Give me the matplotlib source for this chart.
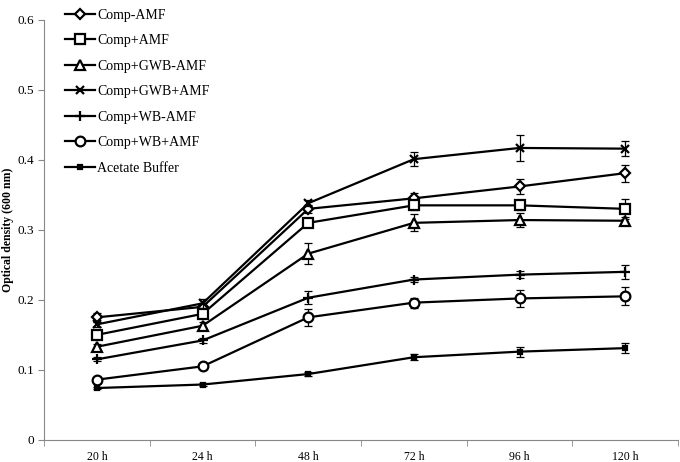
import matplotlib
matplotlib.use("Agg")
import matplotlib.pyplot as plt
import numpy as np

plt.rcParams['font.family'] = ['Liberation Serif', 'DejaVu Serif']

hours = ['20 h', '24 h', '48 h', '72 h', '96 h', '120 h']

comp_amf = [0.175, 0.190, 0.330, 0.345, 0.362, 0.381]
comp_amf_err = [0.006, 0.005, 0.006, 0.008, 0.011, 0.012]
comp_p_amf = [0.150, 0.180, 0.310, 0.335, 0.335, 0.330]
comp_p_amf_err = [0.006, 0.006, 0.005, 0.006, 0.006, 0.014]
gwb_amf = [0.133, 0.163, 0.266, 0.310, 0.314, 0.313]
gwb_amf_err = [0.004, 0.005, 0.015, 0.012, 0.010, 0.005]
gwb_p_amf = [0.165, 0.195, 0.338, 0.401, 0.417, 0.416]
gwb_p_amf_err = [0.004, 0.006, 0.004, 0.010, 0.018, 0.011]
wb_amf = [0.115, 0.142, 0.203, 0.229, 0.236, 0.240]
wb_amf_err = [0.003, 0.004, 0.009, 0.004, 0.005, 0.010]
wb_p_amf = [0.086, 0.105, 0.175, 0.196, 0.202, 0.205]
wb_p_amf_err = [0.003, 0.003, 0.012, 0.007, 0.012, 0.013]
acetate = [0.074, 0.079, 0.094, 0.118, 0.126, 0.131]
acetate_err = [0.002, 0.002, 0.003, 0.004, 0.007, 0.007]

series = [
    ('Comp-AMF', comp_amf, comp_amf_err, 'D', 5),
    ('Comp+AMF', comp_p_amf, comp_p_amf_err, 's', 7),
    ('Comp+GWB-AMF', gwb_amf, gwb_amf_err, '^', 6.5),
    ('Comp+GWB+AMF', gwb_p_amf, gwb_p_amf_err, 'x', 6),
    ('Comp+WB-AMF', wb_amf, wb_amf_err, '+', 7),
    ('Comp+WB+AMF', wb_p_amf, wb_p_amf_err, 'o', 7),
    ('Acetate Buffer', acetate, acetate_err, 's', 2.5),
]

fig = plt.figure(figsize=(6.8, 4.62), dpi=100)
ax = fig.add_axes([0.065, 0.048, 0.932, 0.909])

x = np.arange(len(hours))
for name, vals, err, mk, ms in series:
    face = 'black' if name == 'Acetate Buffer' else 'white'
    ax.errorbar(x, vals, yerr=err, fmt='none', ecolor='black',
                capsize=3, elinewidth=0.9, capthick=0.9)
    ax.plot(x, vals, label=name, color='black', lw=1.6,
            marker=mk, ms=ms, mfc=face, mec='black', mew=1.6)

ax.set_xlim(-0.5, 5.5)
ax.set_ylim(0, 0.6)
ax.set_yticks([0, 0.1, 0.2, 0.3, 0.4, 0.5, 0.6])
ax.set_yticklabels(['0', '0.1', '0.2', '0.3', '0.4', '0.5', '0.6'])
ax.set_xticks(x)
ax.set_xticklabels(hours)
ax.set_xticks(np.arange(-0.5, 6, 1), minor=True)
ax.tick_params(axis='x', which='major', length=0, pad=8, labelsize=8.5)
ax.tick_params(axis='x', which='minor', length=4, color='#888888')
ax.tick_params(axis='y', length=4, color='#888888', labelsize=9.5)
ax.set_ylabel('Optical density (600 nm)', fontweight='bold', fontsize=8.5, labelpad=2)

for s in ['top', 'right']:
    ax.spines[s].set_visible(False)
for s in ['left', 'bottom']:
    ax.spines[s].set_color('#888888')

ax.legend(loc='upper left', bbox_to_anchor=(0.088, 0.993), bbox_transform=fig.transFigure,
          frameon=False, fontsize=10, labelspacing=0.9, handlelength=2.1,
          handletextpad=0.2, borderaxespad=0)

fig.savefig('out.png', dpi=100)
